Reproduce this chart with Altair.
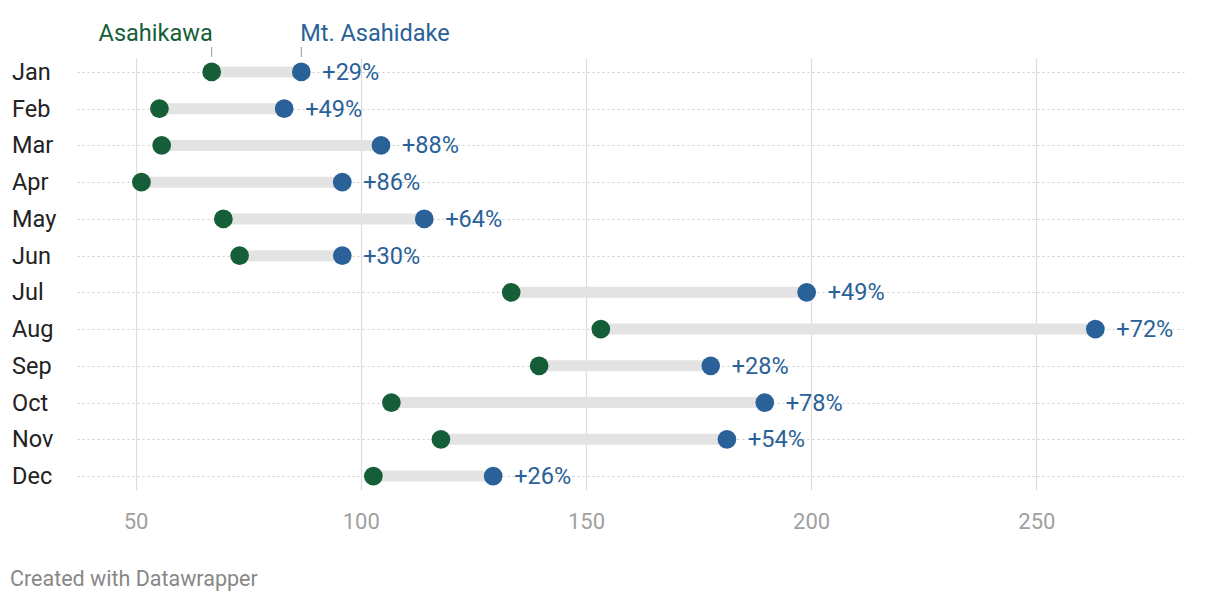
import altair as alt
import pandas as pd

months = ["Jan", "Feb", "Mar", "Apr", "May", "Jun", "Jul", "Aug", "Sep", "Oct", "Nov", "Dec"]
asahikawa = [66.9, 55.3, 55.8, 51.3, 69.5, 73.1, 133.4, 153.3, 139.6, 106.8, 117.8, 102.8]
asahidake = [86.8, 83.0, 104.5, 95.9, 114.1, 95.9, 199.0, 263.1, 177.7, 189.7, 181.3, 129.4]
pct_labels = ["+29%", "+49%", "+88%", "+86%", "+64%", "+30%", "+49%", "+72%", "+28%", "+78%", "+54%", "+26%"]
x_ticks = [50, 100, 150, 200, 250]

GREEN = "#155e38"
BLUE = "#2a6198"
FONT = "Roboto"
TXT = 23.5

df = pd.DataFrame({"month": months, "asahikawa": asahikawa, "asahidake": asahidake, "pct": pct_labels})

xscale = alt.Scale(domain=[37, 283], nice=False, zero=False)
yscale = alt.Scale(type="point", padding=0.38)

xaxis = alt.Axis(values=x_ticks, title=None, domain=False, ticks=False, grid=True,
                 gridColor="#dddddd", gridWidth=1.2, gridDash=[1, 0], labelPadding=21, labelFontSize=22,
                 labelColor="#a0a0a0", labelFont=FONT)
yaxis = alt.Axis(title=None, labels=False, ticks=False, domain=False, grid=True,
                 gridDash=[2, 3], gridColor="#cccccc", gridWidth=1)


def X(field):
    return alt.X(field, scale=xscale, axis=xaxis)


Y = alt.Y("month:N", sort=months, scale=yscale, axis=yaxis)

base = alt.Chart(df)

bar = base.mark_rule(strokeWidth=11, color="#e3e3e3").encode(x=X("asahikawa:Q"), x2="asahidake:Q", y=Y)

dots_g = base.mark_circle(size=350, opacity=1, color=GREEN).encode(x=X("asahikawa:Q"), y=Y)
dots_b = base.mark_circle(size=350, opacity=1, color=BLUE).encode(x=X("asahidake:Q"), y=Y)

pct = base.mark_text(align="left", baseline="middle", dx=21, dy=1, fontSize=TXT, color=BLUE, font=FONT).encode(
    x=X("asahidake:Q"), y=Y, text="pct:N")

mlabels = base.mark_text(align="left", baseline="middle", dy=1, fontSize=TXT, color="#222222", font=FONT).encode(
    x=alt.value(-65), y=Y, text="month:N")

jan = base.transform_filter(alt.datum.month == "Jan")
lab_g = jan.mark_text(align="right", baseline="middle", fontSize=TXT, color=GREEN, font=FONT, dx=1).encode(
    x=X("asahikawa:Q"), y=alt.value(-24), text=alt.value("Asahikawa"))
lab_b = jan.mark_text(align="left", baseline="middle", fontSize=TXT, color=BLUE, font=FONT, dx=-1).encode(
    x=X("asahidake:Q"), y=alt.value(-24), text=alt.value("Mt. Asahidake"))
tick_g = jan.mark_rule(color="#999999", strokeWidth=1).encode(x=X("asahikawa:Q"), y=alt.value(-11), y2=alt.value(-1))
tick_b = jan.mark_rule(color="#999999", strokeWidth=1).encode(x=X("asahidake:Q"), y=alt.value(-11), y2=alt.value(-1))

footer = alt.Chart(pd.DataFrame({"t": ["Created with Datawrapper"]})).mark_text(
    align="left", baseline="middle", fontSize=21.5, color="#888888", font=FONT).encode(
    x=alt.value(-67), y=alt.value(522), text="t:N")

chart = alt.layer(bar, dots_g, dots_b, pct, mlabels, lab_g, lab_b, tick_g, tick_b, footer).properties(
    width=1108, height=432,
    autosize=alt.AutoSizeParams(type="none"),
    padding={"left": 69, "top": 50, "right": 20, "bottom": 120},
    background="white",
).configure(font=FONT).configure_view(stroke=None)

chart.save("out.html", embed_options={"renderer": "svg", "actions": False})
